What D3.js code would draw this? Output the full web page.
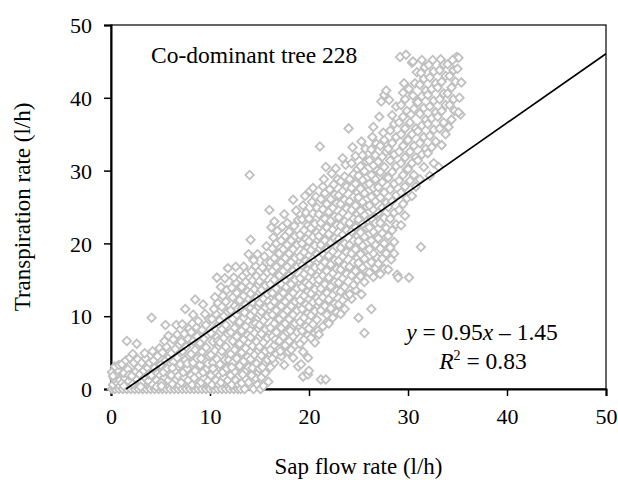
<!DOCTYPE html>
<html>
<head>
<meta charset="utf-8">
<script src="https://cdn.jsdelivr.net/npm/d3@7"></script>
<style>
  body { margin: 0; background: #fff; }
  text { font-family: "Liberation Serif", "Times New Roman", serif; fill: #000; }
</style>
</head>
<body>
<div id="chart"></div>
<script>
// ---- data (sap flow x, transpiration y) ----
const samples = [
  [0.1,0],[0.4,0],[0.8,0],[0.2,0.6],[0.6,0.9],[0.3,1.4],[0.9,1.2],[0.5,2.0],[0.1,2.3],[0.7,2.6],[0.4,3.1],[0.9,0.4],[0.2,1.8],[0.8,3.3],
  [1.2,0],[1.6,0],[1.9,0.3],[1.1,0.8],[1.4,1.5],[1.8,1.1],[1.3,2.2],[1.7,2.7],[1.1,3.4],[1.5,3.9],[1.9,4.3],[1.6,6.6],[1.3,0.4],[1.8,1.9],
  [2.0,0],[2.4,0],[2.8,0],[2.2,0.7],[2.6,1.3],[2.9,0.5],[2.1,1.8],[2.5,2.4],[2.8,3.0],[2.3,3.6],[2.7,4.1],[2.2,4.8],[2.6,6.2],[2.9,2.0],
  [3.2,0],[3.6,0],[3.9,0.2],[3.1,0.9],[3.4,1.6],[3.8,1.1],[3.3,2.5],[3.7,2.9],[3.1,3.6],[3.5,4.2],[3.9,3.6],[3.4,4.9],[3.0,0.3],[3.8,2.0],
  [4.0,0],[4.4,0],[4.8,0],[4.2,0.6],[4.6,1.2],[4.9,0.7],[4.1,1.9],[4.5,2.4],[4.8,3.2],[4.3,3.9],[4.7,4.5],[4.2,5.2],[4.9,5.6],[4.1,9.8],[4.6,0.3],[4.4,2.9],
  [5.2,0],[5.6,0],[5.9,0.3],[5.1,0.9],[5.4,1.6],[5.8,1.2],[5.3,2.3],[5.7,2.8],[5.0,3.3],[5.5,3.9],[5.9,4.4],[5.2,5.0],[5.6,5.8],[5.4,6.6],[5.8,7.3],[5.5,8.8],[5.1,0.4],[5.9,2.0],
  [6.0,0],[6.4,0],[6.8,0],[6.2,0.7],[6.6,1.3],[6.9,0.5],[6.1,1.9],[6.5,2.5],[6.8,3.1],[6.3,3.7],[6.7,4.3],[6.1,4.9],[6.5,5.5],[6.9,6.1],[6.3,6.8],[6.7,7.5],[6.6,8.8],[6.2,2.9],[6.8,1.8],
  [7.2,0],[7.6,0],[7.9,0.3],[7.1,0.9],[7.4,1.6],[7.8,1.2],[7.3,2.3],[7.7,2.8],[7.0,3.4],[7.5,4.0],[7.9,4.6],[7.2,5.2],[7.6,5.8],[7.1,6.5],[7.8,6.9],[7.4,7.6],[7.9,8.3],[7.5,11.0],[7.2,8.9],[7.7,3.5],
  [8.0,0],[8.4,0],[8.8,0],[8.2,0.6],[8.6,1.2],[8.9,0.6],[8.1,1.9],[8.5,2.5],[8.9,3.1],[8.3,3.6],[8.7,4.2],[8.1,4.8],[8.5,5.4],[8.9,6.0],[8.3,6.6],[8.7,7.2],[8.1,7.8],[8.6,8.5],[8.3,10.2],[8.5,12.3],[8.8,9.3],[8.4,1.5],[8.2,9.0],
  [9.2,0],[9.6,0],[9.9,0.2],[9.1,0.9],[9.4,1.5],[9.8,1.1],[9.3,2.3],[9.7,2.8],[9.0,3.3],[9.5,3.9],[9.9,4.5],[9.2,5.1],[9.6,5.7],[9.0,6.3],[9.4,6.9],[9.8,7.5],[9.2,8.1],[9.6,8.8],[9.9,9.6],[9.3,11.6],[9.5,10.3],[9.8,3.5],[9.1,4.2],
  [10.0,0],[10.4,0],[10.8,0],[10.2,0.6],[10.6,1.2],[10.9,0.6],[10.1,1.9],[10.5,2.4],[10.9,3.0],[10.3,3.6],[10.7,4.1],[10.1,4.7],[10.5,5.3],[10.9,5.9],[10.3,6.5],[10.7,7.1],[10.1,7.7],[10.5,8.3],[10.9,8.9],[10.2,9.6],[10.6,10.3],[10.4,11.0],[10.8,11.8],[10.5,12.6],[10.7,15.3],[10.3,2.8],[10.8,6.6],
  [11.2,0],[11.6,0],[11.9,0.3],[11.1,0.9],[11.4,1.6],[11.8,1.2],[11.3,2.3],[11.7,2.8],[11.0,3.4],[11.5,4.0],[11.9,4.6],[11.2,5.2],[11.6,5.8],[11.0,6.4],[11.4,7.0],[11.8,7.6],[11.2,8.2],[11.6,8.8],[11.0,9.4],[11.4,10.0],[11.8,10.6],[11.2,11.3],[11.6,12.0],[11.3,12.8],[11.7,13.6],[11.8,16.6],[11.5,15.2],[11.1,14.0],[11.9,4.0],
  [12.0,0],[12.4,0],[12.8,0],[12.2,0.6],[12.6,1.2],[12.9,0.6],[12.1,1.9],[12.5,2.4],[12.9,3.0],[12.3,3.6],[12.7,4.2],[12.1,4.8],[12.5,5.4],[12.9,6.0],[12.3,6.6],[12.7,7.2],[12.1,7.8],[12.5,8.4],[12.9,9.0],[12.3,9.6],[12.7,10.2],[12.1,10.8],[12.5,11.4],[12.9,12.0],[12.3,12.6],[12.7,13.2],[12.2,13.9],[12.6,14.6],[12.4,15.3],[12.6,16.8],[12.8,11.0],[12.2,3.0],
  [13.1,0],[13.5,0],[13.2,0.8],[13.6,1.4],[13.9,0.9],[13.3,2.0],[13.7,2.6],[13.0,3.2],[13.4,3.8],[13.8,4.4],[13.2,5.0],[13.6,5.6],[13.0,6.2],[13.4,6.8],[13.8,7.4],[13.2,8.0],[13.6,8.6],[13.0,9.2],[13.4,9.8],[13.8,10.4],[13.2,11.0],[13.6,11.6],[13.0,12.2],[13.4,12.8],[13.8,13.4],[13.2,14.0],[13.6,14.7],[13.3,15.5],[13.7,16.0],[13.4,16.8],[13.9,18.5],[14.0,29.4],[13.9,3.0],[13.5,10.5],
  [14.4,0],[14.8,0.6],[14.6,1.5],[14.2,1.9],[14.9,2.3],[14.3,2.9],[14.7,3.5],[14.1,4.1],[14.5,4.7],[14.9,5.3],[14.3,5.9],[14.7,6.5],[14.1,7.1],[14.5,7.7],[14.9,8.3],[14.3,8.9],[14.7,9.5],[14.1,10.1],[14.5,10.7],[14.9,11.3],[14.3,11.9],[14.7,12.5],[14.1,13.1],[14.5,13.7],[14.9,14.3],[14.3,14.9],[14.7,15.5],[14.2,16.2],[14.6,16.9],[14.4,17.7],[14.8,18.5],[14.1,20.5],[14.6,9.0],
  [15.1,0],[15.4,0.4],[15.9,1.0],[15.2,1.6],[15.6,2.2],[15.0,2.8],[15.4,3.4],[15.8,4.0],[15.2,4.6],[15.6,5.2],[15.0,5.8],[15.4,6.4],[15.8,7.0],[15.2,7.6],[15.6,8.2],[15.0,8.8],[15.4,9.4],[15.8,10.0],[15.2,10.6],[15.6,11.2],[15.0,11.8],[15.4,12.4],[15.8,13.0],[15.2,13.6],[15.6,14.2],[15.0,14.8],[15.4,15.4],[15.8,16.0],[15.3,16.7],[15.7,17.4],[15.5,18.2],[15.7,19.6],[15.9,12.0],[15.3,3.0],
  [16.5,3.6],[16.1,3.0],[16.3,4.2],[16.7,4.8],[16.1,5.4],[16.5,6.0],[16.9,6.6],[16.3,7.2],[16.7,7.8],[16.1,8.4],[16.5,9.0],[16.9,9.6],[16.3,10.2],[16.7,10.8],[16.1,11.4],[16.5,12.0],[16.9,12.6],[16.3,13.2],[16.7,13.8],[16.1,14.4],[16.5,15.0],[16.9,15.6],[16.3,16.2],[16.7,16.8],[16.1,17.4],[16.5,18.0],[16.9,18.6],[16.3,19.3],[16.7,20.0],[16.4,20.8],[16.0,24.6],[16.5,23.0],[16.8,21.7],[16.2,22.2],[16.6,6.8],
  [17.5,3.3],[17.9,5.1],[17.2,4.5],[17.6,6.0],[17.0,6.6],[17.4,7.2],[17.8,7.8],[17.2,8.4],[17.6,9.0],[17.0,9.6],[17.4,10.2],[17.8,10.8],[17.2,11.4],[17.6,12.0],[17.0,12.6],[17.4,13.2],[17.8,13.8],[17.2,14.4],[17.6,15.0],[17.0,15.6],[17.4,16.2],[17.8,16.8],[17.2,17.4],[17.6,18.0],[17.0,18.6],[17.4,19.2],[17.8,19.8],[17.2,20.4],[17.6,21.0],[17.5,24.0],[17.3,22.3],[17.8,22.8],[17.1,5.2],[17.7,14.0],
  [18.9,3.1],[18.4,4.3],[18.2,5.4],[18.6,6.0],[18.0,6.6],[18.4,7.2],[18.8,7.8],[18.2,8.4],[18.6,9.0],[18.0,9.6],[18.4,10.2],[18.8,10.8],[18.2,11.4],[18.6,12.0],[18.0,12.6],[18.4,13.2],[18.8,13.8],[18.2,14.4],[18.6,15.0],[18.0,15.6],[18.4,16.2],[18.8,16.8],[18.2,17.4],[18.6,18.0],[18.0,18.6],[18.4,19.2],[18.8,19.8],[18.2,20.4],[18.6,21.0],[18.0,21.6],[18.5,22.4],[18.9,23.2],[18.4,26.0],[18.7,24.5],[18.1,8.0],
  [19.4,1.7],[19.9,2.0],[19.2,3.4],[19.9,4.3],[19.4,5.1],[19.1,6.2],[19.5,6.8],[19.9,7.4],[19.3,8.0],[19.7,8.6],[19.1,9.2],[19.5,9.8],[19.9,10.4],[19.3,11.0],[19.7,11.6],[19.1,12.2],[19.5,12.8],[19.9,13.4],[19.3,14.0],[19.7,14.6],[19.1,15.2],[19.5,15.8],[19.9,16.4],[19.3,17.0],[19.7,17.6],[19.1,18.2],[19.5,18.8],[19.9,19.4],[19.3,20.0],[19.7,20.6],[19.1,21.2],[19.5,21.8],[19.9,22.5],[19.3,23.3],[19.7,24.2],[19.4,25.2],[19.6,26.5],
  [20.1,27.2],[20.4,27.6],[20.0,2.5],[20.6,6.4],[20.2,7.0],[20.6,7.7],[20.0,8.3],[20.4,8.9],[20.8,9.5],[20.2,10.1],[20.6,10.7],[20.0,11.3],[20.4,11.9],[20.8,12.5],[20.2,13.1],[20.6,13.7],[20.0,14.3],[20.4,14.9],[20.8,15.5],[20.2,16.1],[20.6,16.7],[20.0,17.3],[20.4,17.9],[20.8,18.5],[20.2,19.1],[20.6,19.7],[20.0,20.3],[20.4,20.9],[20.8,21.5],[20.2,22.1],[20.6,22.7],[20.0,23.4],[20.4,24.1],[20.8,24.9],[20.3,25.7],[20.7,26.4],[20.9,8.0],
  [21.2,1.3],[21.7,1.3],[21.0,7.5],[21.9,9.3],[21.4,8.6],[21.8,10.2],[21.2,10.8],[21.6,11.4],[21.0,12.0],[21.4,12.6],[21.8,13.2],[21.2,13.8],[21.6,14.4],[21.0,15.0],[21.4,15.6],[21.8,16.2],[21.2,16.8],[21.6,17.4],[21.0,18.0],[21.4,18.6],[21.8,19.2],[21.2,19.8],[21.6,20.4],[21.0,21.0],[21.4,21.6],[21.8,22.2],[21.2,22.8],[21.6,23.4],[21.0,24.0],[21.4,24.7],[21.8,25.4],[21.2,26.1],[21.6,26.9],[21.4,27.8],[21.7,30.5],[21.1,33.3],[21.5,28.8],
  [22.0,9.0],[22.4,9.8],[22.8,10.5],[22.2,11.1],[22.6,11.7],[22.0,12.3],[22.4,12.9],[22.8,13.5],[22.2,14.1],[22.6,14.7],[22.0,15.3],[22.4,15.9],[22.8,16.5],[22.2,17.1],[22.6,17.7],[22.0,18.3],[22.4,18.9],[22.8,19.5],[22.2,20.1],[22.6,20.7],[22.0,21.3],[22.4,21.9],[22.8,22.5],[22.2,23.1],[22.6,23.7],[22.0,24.3],[22.4,24.9],[22.8,25.5],[22.2,26.1],[22.6,26.7],[22.1,27.4],[22.5,28.1],[22.9,28.8],[22.3,29.6],[22.7,30.3],
  [23.2,10.3],[23.6,11.0],[23.0,11.6],[23.4,12.2],[23.8,12.8],[23.2,13.4],[23.6,14.0],[23.0,14.6],[23.4,15.2],[23.8,15.8],[23.2,16.4],[23.6,17.0],[23.0,17.6],[23.4,18.2],[23.8,18.8],[23.2,19.4],[23.6,20.0],[23.0,20.6],[23.4,21.2],[23.8,21.8],[23.2,22.4],[23.6,23.0],[23.0,23.6],[23.4,24.2],[23.8,24.8],[23.2,25.4],[23.6,26.0],[23.0,26.6],[23.4,27.2],[23.8,27.8],[23.2,28.5],[23.6,29.2],[23.4,31.7],[23.7,30.8],[24.0,35.8],
  [24.7,13.6],[24.3,12.4],[24.1,13.0],[24.5,14.3],[24.9,15.0],[24.3,15.6],[24.7,16.2],[24.1,16.8],[24.5,17.4],[24.9,18.0],[24.3,18.6],[24.7,19.2],[24.1,19.8],[24.5,20.4],[24.9,21.0],[24.3,21.6],[24.7,22.2],[24.1,22.8],[24.5,23.4],[24.9,24.0],[24.3,24.6],[24.7,25.2],[24.1,25.8],[24.5,26.4],[24.9,27.0],[24.3,27.6],[24.7,28.2],[24.1,28.8],[24.5,29.5],[24.9,30.2],[24.3,31.0],[24.7,32.0],[24.4,33.2],
  [25.0,9.8],[25.6,7.7],[25.3,13.0],[25.6,14.7],[25.2,15.5],[25.8,16.1],[25.4,16.7],[25.0,17.3],[25.6,17.9],[25.2,18.5],[25.8,19.1],[25.4,19.7],[25.0,20.3],[25.6,20.9],[25.2,21.5],[25.8,22.1],[25.4,22.7],[25.0,23.3],[25.6,23.9],[25.2,24.5],[25.8,25.1],[25.4,25.7],[25.0,26.3],[25.6,26.9],[25.2,27.5],[25.8,28.1],[25.4,28.7],[25.0,29.3],[25.6,29.9],[25.2,30.6],[25.8,31.3],[25.4,32.1],[25.7,33.0],[25.3,34.0],
  [26.3,11.0],[26.5,15.4],[26.1,16.0],[26.7,16.6],[26.3,17.4],[26.9,18.0],[26.5,18.6],[26.1,19.2],[26.7,19.8],[26.3,20.4],[26.9,21.0],[26.5,21.6],[26.1,22.2],[26.7,22.8],[26.3,23.4],[26.9,24.0],[26.5,24.6],[26.1,25.2],[26.7,25.8],[26.3,26.4],[26.9,27.0],[26.5,27.6],[26.1,28.2],[26.7,28.8],[26.3,29.4],[26.9,30.0],[26.5,30.7],[26.1,31.4],[26.7,32.1],[26.3,32.9],[26.8,33.7],[26.5,36.0],[26.4,34.6],
  [27.2,15.8],[27.6,16.5],[27.0,17.2],[27.4,17.9],[27.8,18.6],[27.2,19.3],[27.6,20.0],[27.0,20.7],[27.4,21.4],[27.8,22.1],[27.2,22.8],[27.6,23.5],[27.0,24.2],[27.4,24.9],[27.8,25.6],[27.2,26.3],[27.6,27.0],[27.0,27.7],[27.4,28.4],[27.8,29.1],[27.2,29.8],[27.6,30.5],[27.0,31.2],[27.4,31.9],[27.8,32.6],[27.2,33.4],[27.6,34.2],[27.1,37.4],[27.6,40.4],[27.3,39.5],[27.8,41.0],[27.5,35.2],
  [28.0,16.4],[28.3,17.8],[28.9,15.7],[28.6,18.6],[28.2,19.4],[28.6,20.2],[28.0,21.0],[28.4,21.8],[28.8,22.6],[28.2,23.4],[28.6,24.2],[28.0,25.0],[28.4,25.8],[28.8,26.6],[28.2,27.4],[28.6,28.2],[28.0,29.0],[28.4,29.8],[28.8,30.6],[28.2,31.4],[28.6,32.2],[28.0,33.0],[28.4,33.8],[28.8,34.6],[28.2,35.5],[28.6,36.4],[28.1,39.7],[28.4,37.6],[28.8,38.8],
  [29.0,15.3],[29.3,22.5],[29.7,23.8],[29.1,24.6],[29.5,25.4],[29.9,26.2],[29.3,27.0],[29.7,27.8],[29.1,28.6],[29.5,29.4],[29.9,30.2],[29.3,31.0],[29.7,31.8],[29.1,32.6],[29.5,33.4],[29.9,34.2],[29.3,35.0],[29.7,35.8],[29.1,36.6],[29.5,37.4],[29.9,38.2],[29.3,39.0],[29.7,39.8],[29.5,40.7],[29.2,45.6],[29.8,45.9],[29.6,42.0],
  [30.1,15.3],[30.4,26.5],[30.8,27.8],[30.2,28.6],[30.6,29.4],[30.0,30.2],[30.4,31.0],[30.8,31.8],[30.2,32.6],[30.6,33.4],[30.0,34.2],[30.4,35.0],[30.8,35.8],[30.2,36.6],[30.3,37.7],[30.6,38.5],[30.9,39.4],[30.5,40.3],[30.1,41.2],[30.7,42.0],[30.4,44.8],[30.5,45.0],[30.9,43.5],
  [31.3,19.5],[31.6,30.5],[31.2,28.8],[31.0,31.4],[31.4,32.2],[31.8,33.0],[31.2,33.8],[31.6,34.6],[31.0,35.4],[31.4,36.2],[31.8,37.0],[31.2,37.8],[31.6,38.6],[31.0,39.4],[31.4,40.2],[31.8,41.0],[31.2,41.8],[31.6,42.6],[31.3,43.4],[31.7,44.2],[31.4,45.2],
  [32.2,29.3],[32.6,31.0],[32.0,32.4],[32.4,33.2],[32.8,34.0],[32.2,34.8],[32.6,35.6],[32.0,36.4],[32.4,37.2],[32.8,38.0],[32.2,38.8],[32.6,39.6],[32.0,40.4],[32.4,41.2],[32.8,42.0],[32.2,42.8],[32.6,43.6],[32.1,44.5],[32.5,45.2],
  [33.1,30.5],[33.4,33.5],[33.8,35.0],[33.2,35.8],[33.6,36.6],[33.0,37.4],[33.4,38.2],[33.8,39.0],[33.2,39.8],[33.6,40.6],[33.0,41.4],[33.4,42.2],[33.8,43.0],[33.2,43.8],[33.6,44.6],[33.3,45.3],
  [34.4,37.0],[34.1,36.0],[34.7,38.2],[34.2,39.0],[34.6,39.8],[34.0,40.6],[34.4,41.4],[34.8,42.2],[34.2,43.0],[34.6,43.8],[34.0,44.6],[34.9,45.6],[35.1,45.5],[35.3,37.7],[35.1,38.0],[35.4,42.1],[35.2,40.0],[35.0,44.0],[34.5,45.2]
]

const xTicks = [0, 10, 20, 30, 40, 50]
const yTicks = [0, 10, 20, 30, 40, 50]

// linear fit shown on the chart
const slope = 0.95
const intercept = -1.45
const rSquared = 0.83

const treeLabel = "Co-dominant tree 228"
const xTitle = "Sap flow rate (l/h)"
const yTitle = "Transpiration rate (l/h)"

// ---- layout ----
const width = 618
const height = 480
const margin = { top: 25, right: 12, bottom: 91, left: 111 }

const svg = d3.select("#chart")
	.append("svg")
	.attr("width", width)
	.attr("height", height)
	.style("background", "#fff")

const xScale = d3.scaleLinear()
	.domain([0, 50])
	.range([margin.left, width - margin.right])

const yScale = d3.scaleLinear()
	.domain([0, 50])
	.range([height - margin.bottom, margin.top])

// frame: top and right thin
svg.append("rect")
	.attr("x", xScale(0))
	.attr("y", yScale(50))
	.attr("width", xScale(50) - xScale(0))
	.attr("height", yScale(0) - yScale(50))
	.attr("fill", "none")
	.attr("stroke", "#000")
	.attr("stroke-width", 1.2)

// ---- axes ----
const xAxis = svg.append("g")
	.attr("transform", "translate(0," + yScale(0) + ")")
	.call(d3.axisBottom(xScale).tickValues(xTicks).tickSize(7).tickPadding(12).tickFormat(d3.format("d")))

const yAxis = svg.append("g")
	.attr("transform", "translate(" + xScale(0) + ",0)")
	.call(d3.axisLeft(yScale).tickValues(yTicks).tickSize(7).tickPadding(12).tickFormat(d3.format("d")))

;[xAxis, yAxis].forEach(g => {
	g.select(".domain").attr("stroke", "#000").attr("stroke-width", 2)
	g.selectAll(".tick line").attr("stroke", "#000").attr("stroke-width", 1.5)
	g.selectAll(".tick text")
		.style("font-family", '"Liberation Serif", "Times New Roman", serif')
		.style("font-size", "22px")
		.attr("fill", "#000")
})
yAxis.selectAll(".tick text").attr("dy", "0.35em")
xAxis.selectAll(".tick text").attr("dy", "0.71em")

// ---- points (open grey diamonds) ----
const diamond = d3.symbol().type(d3.symbolSquare).size(36)

svg.append("g")
	.selectAll("path")
	.data(samples)
	.enter()
	.append("path")
	.attr("d", diamond)
	.attr("transform", d => "translate(" + xScale(d[0]) + "," + yScale(d[1]) + ") rotate(45)")
	.attr("fill", "#fff")
	.attr("stroke", "#c0c0c0")
	.attr("stroke-width", 1.8)

// ---- regression line ----
const xStart = -intercept / slope
svg.append("line")
	.attr("x1", xScale(xStart))
	.attr("y1", yScale(0))
	.attr("x2", xScale(50))
	.attr("y2", yScale(slope * 50 + intercept))
	.attr("stroke", "#000")
	.attr("stroke-width", 1.6)

// ---- texts ----
svg.append("text")
	.attr("x", 151)
	.attr("y", 63)
	.style("font-size", "23.5px")
	.text(treeLabel)

const eq = svg.append("text")
	.attr("x", 482)
	.attr("y", 340)
	.attr("text-anchor", "middle")
	.style("font-size", "23.5px")
eq.append("tspan").style("font-style", "italic").text("y")
eq.append("tspan").text(" = " + slope.toFixed(2))
eq.append("tspan").style("font-style", "italic").text("x")
eq.append("tspan").text(" \u2013 " + Math.abs(intercept).toFixed(2))

const r2 = svg.append("text")
	.attr("x", 483)
	.attr("y", 369)
	.attr("text-anchor", "middle")
	.style("font-size", "23.5px")
r2.append("tspan").style("font-style", "italic").text("R")
r2.append("tspan").attr("dy", -9).style("font-size", "14px").text("2")
r2.append("tspan").attr("dy", 9).text(" = " + rSquared.toFixed(2))

svg.append("text")
	.attr("x", (xScale(0) + xScale(50)) / 2)
	.attr("y", 474)
	.attr("text-anchor", "middle")
	.style("font-size", "23px")
	.text(xTitle)

svg.append("text")
	.attr("transform", "translate(30," + (yScale(0) + yScale(50)) / 2 + ") rotate(-90)")
	.attr("text-anchor", "middle")
	.style("font-size", "23px")
	.text(yTitle)
</script>
</body>
</html>
